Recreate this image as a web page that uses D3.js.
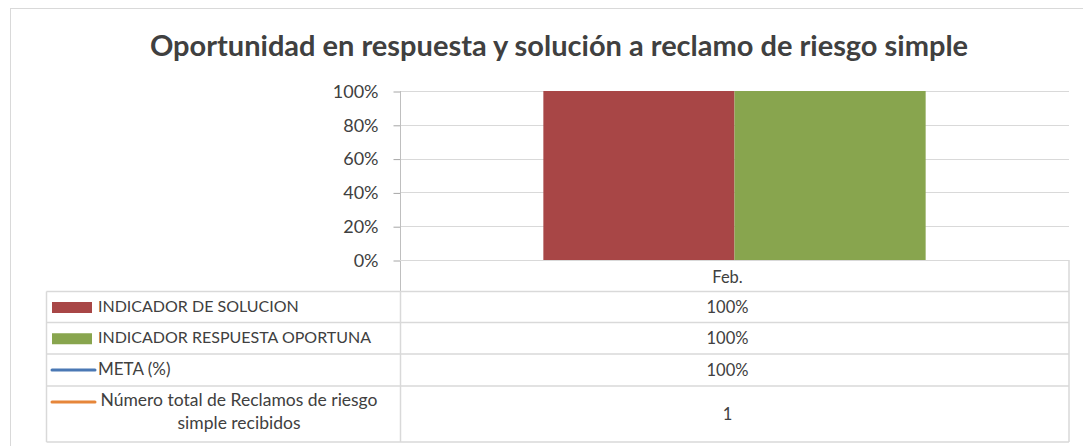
<!DOCTYPE html>
<html>
<head>
<meta charset="utf-8">
<script src="https://cdn.jsdelivr.net/npm/d3@7"></script>
<style>
  html, body { margin: 0; padding: 0; background: #fff; }
  svg { display: block; font-family: Lato, "Open Sans", sans-serif; }
</style>
</head>
<body>
<div id="chart"></div>
<script>
// chart data
const categories = ['Feb.'];
const barSeries = ['INDICADOR DE SOLUCION', 'INDICADOR RESPUESTA OPORTUNA'];
const barValues = [[1.0], [1.0]];
const lineSeries = ['META (%)', 'Número total de Reclamos de riesgo simple recibidos'];
const metaValues = [1.0];
const totalReclamos = [1];
const yTicks = [0, 0.2, 0.4, 0.6, 0.8, 1.0];

const colors = {
  'INDICADOR DE SOLUCION': '#a84646',
  'INDICADOR RESPUESTA OPORTUNA': '#88a54e',
  'META (%)': '#4a78b4',
  'Número total de Reclamos de riesgo simple recibidos': '#e6863a'
};

const width = 1083;
const height = 446;
const plot = { left: 400, right: 1069, top: 91, bottom: 260 };
const tableRows = [260, 291.5, 322.5, 354, 386, 442];
const tableLeft = 46.5;
const textColor = '#404040';
const gridColor = '#d9d9d9';

const svg = d3.select('#chart')
  .append('svg')
  .attr('width', width)
  .attr('height', height);

// outer chart border
svg.append('rect')
  .attr('x', 10.5)
  .attr('y', 8.5)
  .attr('width', width + 20)
  .attr('height', height + 20)
  .attr('fill', 'none')
  .attr('stroke', gridColor);

// title
svg.append('text')
  .attr('x', 559)
  .attr('y', 56)
  .attr('text-anchor', 'middle')
  .attr('fill', textColor)
  .style('font-size', '29px')
  .style('font-weight', 'bold')
  .text('Oportunidad en respuesta y solución a reclamo de riesgo simple');

// scales
const y = d3.scaleLinear().domain([0, 1]).range([plot.bottom, plot.top]);
const x0 = d3.scaleBand().domain(categories).range([plot.left, plot.right]).paddingOuter(0.375).paddingInner(0);
const x1 = d3.scaleBand().domain(barSeries).range([0, x0.bandwidth()]);

// gridlines
svg.append('g')
  .selectAll('line')
  .data(yTicks)
  .enter()
  .append('line')
  .attr('x1', plot.left)
  .attr('x2', plot.right)
  .attr('y1', d => Math.round(y(d)) + 0.5)
  .attr('y2', d => Math.round(y(d)) + 0.5)
  .attr('stroke', gridColor)
  .attr('stroke-width', 1);

// bars
barSeries.forEach((s, si) => {
  svg.append('g')
    .selectAll('rect')
    .data(barValues[si])
    .enter()
    .append('rect')
    .attr('x', (d, i) => x0(categories[i]) + x1(s))
    .attr('y', d => y(d))
    .attr('width', x1.bandwidth())
    .attr('height', d => y(0) - y(d))
    .attr('fill', colors[s]);
});

// y axis
const yAxis = d3.axisLeft(y)
  .tickValues(yTicks)
  .tickFormat(d3.format('.0%'))
  .tickSize(7)
  .tickPadding(15);

const axisG = svg.append('g')
  .attr('transform', `translate(${plot.left + 0.5}, 0.5)`)
  .call(yAxis);

axisG.select('.domain').remove();
axisG.selectAll('.tick line').attr('stroke', '#a6a6a6');
axisG.selectAll('.tick text')
  .attr('fill', textColor)
  .style('font-size', '18px')
  .style('font-family', 'Lato, "Open Sans", sans-serif');

// axis line extends into the header row
svg.append('line')
  .attr('x1', plot.left + 0.5)
  .attr('x2', plot.left + 0.5)
  .attr('y1', plot.top)
  .attr('y2', tableRows[1])
  .attr('stroke', '#bfbfbf');

// data table
const table = svg.append('g');

// header row top border
table.append('line')
  .attr('x1', plot.left).attr('x2', plot.right)
  .attr('y1', tableRows[0] + 0.5).attr('y2', tableRows[0] + 0.5)
  .attr('stroke', gridColor);

table.selectAll('line.hrow')
  .data(tableRows.slice(1))
  .enter()
  .append('line')
  .attr('class', 'hrow')
  .attr('x1', tableLeft).attr('x2', plot.right)
  .attr('y1', d => d).attr('y2', d => d)
  .attr('stroke', gridColor)
  .attr('stroke-width', 1.5);

table.append('line')
  .attr('x1', tableLeft).attr('x2', tableLeft)
  .attr('y1', tableRows[1]).attr('y2', tableRows[5])
  .attr('stroke', gridColor)
  .attr('stroke-width', 1.5);

table.append('line')
  .attr('x1', plot.left + 0.5).attr('x2', plot.left + 0.5)
  .attr('y1', tableRows[1]).attr('y2', tableRows[5])
  .attr('stroke', gridColor)
  .attr('stroke-width', 1.5);

table.append('line')
  .attr('x1', plot.right).attr('x2', plot.right)
  .attr('y1', tableRows[0]).attr('y2', tableRows[5])
  .attr('stroke', gridColor)
  .attr('stroke-width', 1.5);

// category header
const colCenter = (plot.left + plot.right) / 2 - 7;
table.selectAll('text.cat')
  .data(categories)
  .enter()
  .append('text')
  .attr('class', 'cat')
  .attr('x', colCenter)
  .attr('y', (tableRows[0] + tableRows[1]) / 2 + 1)
  .attr('dy', '0.35em')
  .attr('text-anchor', 'middle')
  .attr('fill', textColor)
  .style('font-size', '16.5px')
  .text(d => d);

// rows: legend key + value
const fmtPct = d3.format('.0%');
const rows = [
  { name: barSeries[0], kind: 'bar', value: fmtPct(barValues[0][0]), size: 16 },
  { name: barSeries[1], kind: 'bar', value: fmtPct(barValues[1][0]), size: 16 },
  { name: lineSeries[0], kind: 'line', value: fmtPct(metaValues[0]), size: 17 },
  { name: lineSeries[1], kind: 'line', value: String(totalReclamos[0]), size: 17.5 }
];

rows.forEach((r, i) => {
  const top = tableRows[i + 1];
  const bottom = tableRows[i + 2];
  const mid = (top + bottom) / 2;
  const keyY = i === 3 ? top + 16 : mid;

  if (r.kind === 'bar') {
    table.append('rect')
      .attr('x', 52)
      .attr('y', keyY - 5)
      .attr('width', 40)
      .attr('height', 11)
      .attr('fill', colors[r.name]);
  } else {
    table.append('line')
      .attr('x1', 52).attr('x2', 95)
      .attr('y1', keyY).attr('y2', keyY)
      .attr('stroke', colors[r.name])
      .attr('stroke-width', 3)
      .attr('stroke-linecap', 'round');
  }

  if (i < 3) {
    table.append('text')
      .attr('x', 98)
      .attr('y', mid - 1)
      .attr('dy', '0.35em')
      .attr('fill', textColor)
      .style('font-size', r.size + 'px')
      .text(r.name);
  } else {
    const lines = ['Número total de Reclamos de riesgo', 'simple recibidos'];
    lines.forEach((t, li) => {
      table.append('text')
        .attr('x', 239)
        .attr('y', top + 14 + li * 23)
        .attr('dy', '0.35em')
        .attr('text-anchor', 'middle')
        .attr('fill', textColor)
        .style('font-size', r.size + 'px')
        .text(t);
    });
  }

  table.append('text')
    .attr('x', colCenter)
    .attr('y', mid)
    .attr('dy', '0.35em')
    .attr('text-anchor', 'middle')
    .attr('fill', textColor)
    .style('font-size', '16.5px')
    .text(r.value);
});
</script>
</body>
</html>
